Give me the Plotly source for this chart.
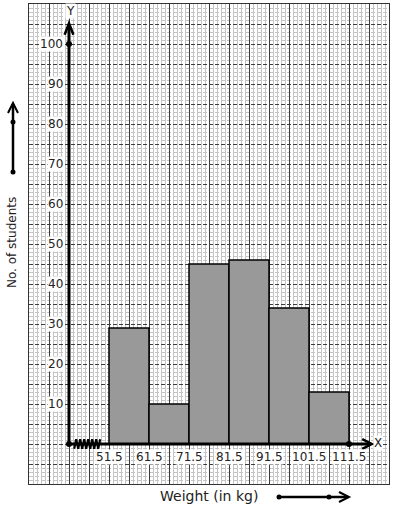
import plotly.graph_objects as go

# ---- data ----
class_edges = [51.5, 61.5, 71.5, 81.5, 91.5, 101.5, 111.5]
edge_labels = ["51.5", "61.5", "71.5", "81.5", "91.5", "101.5", "111.5"]
students = [29, 10, 45, 46, 34, 13]
y_tick_vals = [10, 20, 30, 40, 50, 60, 70, 80, 90, 100]
x_title = "Weight (in kg)"
y_title = "No. of students"

# ---- layout constants ----
W, H = 394, 510
ML, MR, MT, MB = 29, 5, 4, 26
X0 = 41.5              # where the Y axis sits (break on the x axis)
XR = [31.5, 121.5]
YR = [-10, 110]
FONT = "DejaVu Sans"
TXT = "#222222"

def px2paper(x):
    return (x - ML) / (W - ML - MR)

def py2paper(y):
    return (H - MB - y) / (H - MT - MB)

mids = [(a + b) / 2 for a, b in zip(class_edges[:-1], class_edges[1:])]
widths = [b - a for a, b in zip(class_edges[:-1], class_edges[1:])]

fig = go.Figure()
fig.add_trace(go.Bar(
    x=mids, y=students, width=widths,
    marker=dict(color="#999999", line=dict(color="black", width=1.5)),
    hoverinfo="skip", showlegend=False,
))
# axis dots
fig.add_trace(go.Scatter(
    x=[X0, X0, class_edges[-1]], y=[0, y_tick_vals[-1], 0], mode="markers",
    marker=dict(color="black", size=6), cliponaxis=False,
    hoverinfo="skip", showlegend=False,
))

shapes = []
line_black = dict(color="black", width=3)
# axes
shapes.append(dict(type="line", xref="x", yref="y", x0=X0, y0=0, x1=X0, y1=105, line=line_black, layer="above"))
shapes.append(dict(type="line", xref="x", yref="y", x0=X0, y0=0, x1=117, y1=0, line=line_black, layer="above"))
# arrowheads
shapes.append(dict(type="path", xref="x", yref="y",
                   path=f"M {X0-1.1},{102.3} L {X0},{105.2} L {X0+1.1},{102.3}",
                   line=dict(color="black", width=2.5), layer="above"))
shapes.append(dict(type="path", xref="x", yref="y",
                   path="M 114.8,1.2 L 117.2,0 L 114.8,-1.2",
                   line=dict(color="black", width=2.5), layer="above"))
# zigzag break
zz = []
for i in range(14):
    xx = X0 + 1.3 + i * 0.5
    yy = 1.2 if i % 2 else -1.2
    zz.append(f"{xx},{yy}")
shapes.append(dict(type="path", xref="x", yref="y", path="M " + " L ".join(zz),
                   line=dict(color="black", width=2.2), layer="above"))

# left arrow (y title)
shapes.append(dict(type="line", xref="paper", yref="paper",
                   x0=px2paper(13), y0=py2paper(172), x1=px2paper(13), y1=py2paper(104),
                   line=dict(color="black", width=2.5)))
shapes.append(dict(type="path", xref="paper", yref="paper",
                   path=f"M {px2paper(8)},{py2paper(113)} L {px2paper(13)},{py2paper(103)} L {px2paper(18)},{py2paper(113)}",
                   line=dict(color="black", width=2)))
# bottom arrow (x title)
shapes.append(dict(type="line", xref="paper", yref="paper",
                   x0=px2paper(279), y0=py2paper(497), x1=px2paper(348), y1=py2paper(497),
                   line=dict(color="black", width=2.5)))
shapes.append(dict(type="path", xref="paper", yref="paper",
                   path=f"M {px2paper(339)},{py2paper(492)} L {px2paper(349)},{py2paper(497)} L {px2paper(339)},{py2paper(502)}",
                   line=dict(color="black", width=2)))
for (dx, dy) in [(13, 172), (13, 122), (279, 497), (329, 497)]:
    r = 2.5
    shapes.append(dict(type="circle", xref="paper", yref="paper",
                       x0=px2paper(dx - r), x1=px2paper(dx + r),
                       y0=py2paper(dy + r), y1=py2paper(dy - r),
                       fillcolor="black", line=dict(color="black", width=0)))

annotations = []
for v in y_tick_vals:
    annotations.append(dict(x=X0, y=v, xref="x", yref="y", text=str(v), showarrow=False,
                            xanchor="right", yanchor="middle", xshift=-5,
                            bgcolor="white", borderpad=0,
                            font=dict(family=FONT, size=12, color=TXT)))
for e, lab in zip(class_edges, edge_labels):
    annotations.append(dict(x=e, y=0, xref="x", yref="y", text=lab, showarrow=False,
                            xanchor="center", yanchor="middle", yshift=-13,
                            bgcolor="white", borderpad=0,
                            font=dict(family=FONT, size=12, color=TXT)))
annotations.append(dict(x=px2paper(378), y=py2paper(443), xref="paper", yref="paper", text="X",
                        showarrow=False, xanchor="center", yanchor="middle", bgcolor="white", borderpad=0,
                        font=dict(family=FONT, size=12, color=TXT)))
annotations.append(dict(x=px2paper(70), y=py2paper(11), xref="paper", yref="paper", text="Y",
                        showarrow=False, xanchor="center", yanchor="middle", bgcolor="white", borderpad=0,
                        font=dict(family=FONT, size=12, color=TXT)))
annotations.append(dict(x=px2paper(209), y=py2paper(496), xref="paper", yref="paper", text=x_title,
                        showarrow=False, xanchor="center", yanchor="middle",
                        font=dict(family=FONT, size=14, color=TXT)))
annotations.append(dict(x=px2paper(12), y=py2paper(243), xref="paper", yref="paper", text=y_title,
                        showarrow=False, xanchor="center", yanchor="middle", textangle=-90,
                        font=dict(family=FONT, size=12, color=TXT)))

grid_minor = dict(showgrid=True, dtick=1, gridcolor="#c4c4c4", gridwidth=1, ticks="")
fig.update_layout(
    width=W, height=H, autosize=False,
    margin=dict(l=ML, r=MR, t=MT, b=MB, pad=0),
    paper_bgcolor="white", plot_bgcolor="white",
    showlegend=False, bargap=0,
    shapes=shapes, annotations=annotations,
    xaxis=dict(range=XR, tick0=XR[0], dtick=5, showgrid=True, gridcolor="#3c3c3c", gridwidth=1,
               griddash="solid", showticklabels=False, ticks="", zeroline=False,
               showline=True, mirror=True, linecolor="#333333", linewidth=1,
               minor=dict(tick0=XR[0], **grid_minor), fixedrange=True),
    yaxis=dict(range=YR, tick0=YR[0], dtick=5, showgrid=True, gridcolor="#3c3c3c", gridwidth=1,
               griddash="4px,2px", showticklabels=False, ticks="", zeroline=False,
               showline=True, mirror=True, linecolor="#333333", linewidth=1,
               minor=dict(tick0=YR[0], **grid_minor), fixedrange=True),
)

fig.write_html("out.html", config={"staticPlot": True},
               post_script="document.body.style.margin='0';document.body.style.padding='0';")
